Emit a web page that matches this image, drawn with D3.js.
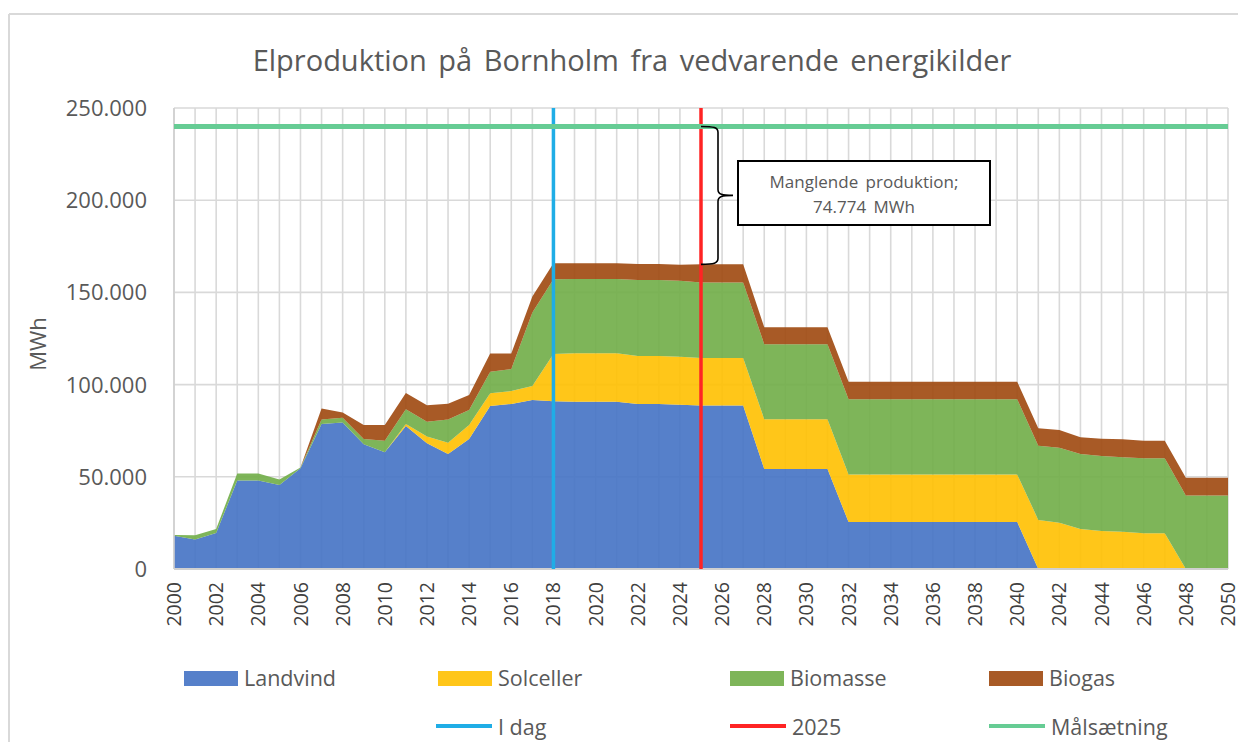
<!DOCTYPE html>
<html><head><meta charset="utf-8">
<script src="https://cdn.jsdelivr.net/npm/d3@7"></script>
<style>
html,body{margin:0;padding:0;background:#fff;}
svg{display:block;font-family:"Open Sans","Noto Sans",sans-serif;}
</style></head>
<body>
<svg id="chart" width="1238" height="742"></svg>
<script>
const years = d3.range(2000, 2051);
const landvind = [18000,16000,19500,48000,48000,45500,54600,78600,79500,67600,
  63300,77500,68200,62400,70500,88400,89500,91700,91000,90700,
  90700,90700,89500,89500,89100,88600,88600,88600,54200,54200,
  54200,54200,25500,25500,25500,25500,25500,25500,25500,25500,
  25500,0,0,0,0,0,0,0,0,0,0];
const solceller = [0,0,0,0,0,0,0,0,0,0,
  0,1200,3600,6100,7600,6900,7000,7600,25600,26300,
  26300,26300,26000,26000,26000,25800,25800,25800,27000,27000,
  27000,27000,25800,25800,25800,25800,25800,25800,25800,25800,
  25800,26600,25100,21700,20600,20200,19400,19400,0,0,0];
const biomasse = [500,2300,2200,3800,3800,3000,500,2500,2500,2900,
  6300,8000,8100,12600,8100,11700,11900,39800,40500,40300,
  40300,40300,41200,41200,41200,41000,41000,41000,40700,40700,
  40700,40700,40700,40700,40700,40700,40700,40700,40700,40700,
  40700,40300,40700,40700,40700,40400,40600,40600,39800,39800,39800];
const biogas = [0,0,0,0,0,0,0,6000,2900,7600,
  8500,8700,8900,8500,8100,9900,8500,8700,8700,8500,
  8500,8500,8700,8700,8700,9800,9800,9800,9200,9200,
  9200,9200,9600,9600,9600,9600,9600,9600,9600,9600,
  9600,9400,9600,9000,9400,9700,9600,9600,9700,9700,9700];
const seriesNames = ["Landvind","Solceller","Biomasse","Biogas"];
const seriesColors = ["#4472C4","#FFC000","#70AD47","#9E480E"];
const yTicks = [0,50000,100000,150000,200000,250000];
const xTickYears = d3.range(2000, 2051, 2);
const targetValue = 240000;
const todayYear = 2018;
const markYear = 2025;
const annotationLines = ["Manglende produktion;","74.774 MWh"];
const title = "Elproduktion på Bornholm fra vedvarende energikilder";
const yTitle = "MWh";

const svg = d3.select("#chart");
const L = 174, R = 1228, T = 108, B = 569;
const x = d3.scaleLinear().domain([2000, 2050]).range([L, R]);
const y = d3.scaleLinear().domain([0, 250000]).range([B, T]);
const fmt = v => d3.format(",")(v).replace(/,/g, ".");

// outer frame
svg.append("line").attr("x1",9).attr("x2",1238).attr("y1",14).attr("y2",14).attr("stroke","#d9d9d9").attr("stroke-width",2);
svg.append("line").attr("x1",9).attr("x2",9).attr("y1",14).attr("y2",742).attr("stroke","#d9d9d9").attr("stroke-width",2);

// title
svg.append("text").attr("x",632).attr("y",71).attr("text-anchor","middle")
  .attr("font-size",29).attr("fill","#595959").attr("word-spacing",4).text(title);

// gridlines
const grid = svg.append("g");
grid.selectAll(".gx").data(years).enter().append("line")
  .attr("x1",d=>x(d)).attr("x2",d=>x(d)).attr("y1",T).attr("y2",B)
  .attr("stroke","#d9d9d9").attr("stroke-width",1.6);
grid.selectAll(".gy").data(yTicks).enter().append("line")
  .attr("x1",L).attr("x2",R).attr("y1",d=>y(d)).attr("y2",d=>y(d))
  .attr("stroke","#d9d9d9").attr("stroke-width",1.6);

// stacked areas
const table = years.map((yr,i)=>({year:yr, Landvind:landvind[i], Solceller:solceller[i], Biomasse:biomasse[i], Biogas:biogas[i]}));
const stack = d3.stack().keys(seriesNames)(table);
const area = d3.area().x(d=>x(d.data.year)).y0(d=>y(d[0])).y1(d=>y(d[1]));
svg.append("g").selectAll("path").data(stack).enter().append("path")
  .attr("d",area).attr("fill",(d,i)=>seriesColors[i]).attr("fill-opacity",0.9);

// axis line
svg.append("line").attr("x1",L).attr("x2",R).attr("y1",B).attr("y2",B).attr("stroke","#d0d0d0").attr("stroke-width",2);
svg.append("line").attr("x1",L).attr("x2",L).attr("y1",T).attr("y2",B).attr("stroke","#d0d0d0").attr("stroke-width",1.6);

// y axis labels
svg.append("g").selectAll("text").data(yTicks).enter().append("text")
  .attr("x",147).attr("y",d=>y(d)).attr("dy","0.36em").attr("text-anchor","end")
  .attr("font-size",22).attr("fill","#595959").text(fmt);
svg.append("text").attr("transform","translate(46,344) rotate(-90)").attr("text-anchor","middle")
  .attr("font-size",22).attr("fill","#595959").text(yTitle);

// x axis labels
svg.append("g").selectAll("text").data(xTickYears).enter().append("text")
  .attr("transform",d=>`translate(${x(d)},582) rotate(-90)`).attr("dy","0.36em").attr("text-anchor","end")
  .attr("font-size",19.5).attr("fill","#404040").text(d=>d);

// vertical marker lines
svg.append("line").attr("x1",x(todayYear)).attr("x2",x(todayYear)).attr("y1",T).attr("y2",B)
  .attr("stroke","#1FADE6").attr("stroke-width",3.5);
svg.append("line").attr("x1",x(markYear)).attr("x2",x(markYear)).attr("y1",T).attr("y2",B)
  .attr("stroke","#FF2424").attr("stroke-width",3.5);
// target line
svg.append("line").attr("x1",L).attr("x2",R).attr("y1",y(targetValue)).attr("y2",y(targetValue))
  .attr("stroke","#66CC94").attr("stroke-width",5);

// brace
const i25 = years.indexOf(markYear);
const tot25 = landvind[i25]+solceller[i25]+biomasse[i25]+biogas[i25];
const bx = x(markYear), yt = y(targetValue), yb = y(tot25), ym = (yt+yb)/2;
const vx = bx+17;
const brace = `M${bx},${yt} C${vx-4},${yt} ${vx},${yt+1} ${vx},${yt+6} L${vx},${ym-6} C${vx},${ym-1} ${vx+4},${ym} ${vx+15},${ym}`+
  ` M${vx+15},${ym} C${vx+4},${ym} ${vx},${ym+1} ${vx},${ym+6} L${vx},${yb-6} C${vx},${yb-1} ${vx-4},${yb} ${bx},${yb}`;
svg.append("path").attr("d",brace).attr("fill","none").attr("stroke","#000").attr("stroke-width",1.6);

// annotation box
svg.append("rect").attr("x",738).attr("y",161).attr("width",252).attr("height",64)
  .attr("fill","#fff").attr("stroke","#000").attr("stroke-width",2);
svg.append("g").selectAll("text").data(annotationLines).enter().append("text")
  .attr("x",864).attr("y",(d,i)=>188+i*25).attr("text-anchor","middle")
  .attr("font-size",17).attr("word-spacing",3).attr("fill","#595959").text(d=>d);

// legend
const leg = svg.append("g").attr("font-size",21.5).attr("fill","#595959");
const legRects = [
  {name:"Landvind", x:184, c:seriesColors[0]},
  {name:"Solceller", x:438, c:seriesColors[1]},
  {name:"Biomasse", x:730, c:seriesColors[2]},
  {name:"Biogas", x:989, c:seriesColors[3]}];
legRects.forEach(d=>{
  leg.append("rect").attr("x",d.x).attr("y",671).attr("width",54).attr("height",15).attr("fill",d.c).attr("fill-opacity",0.9);
  leg.append("text").attr("x",d.x+60).attr("y",678).attr("dy","0.36em").text(d.name);
});
const legLines = [
  {name:"I dag", x:436, c:"#1FADE6"},
  {name:String(markYear), x:730, c:"#FF2424"},
  {name:"Målsætning", x:989, c:"#66CC94"}];
legLines.forEach(d=>{
  leg.append("line").attr("x1",d.x).attr("x2",d.x+56).attr("y1",726).attr("y2",726).attr("stroke",d.c).attr("stroke-width",4);
  leg.append("text").attr("x",d.x+62).attr("y",727).attr("dy","0.36em").text(d.name);
});
</script>
</body></html>
